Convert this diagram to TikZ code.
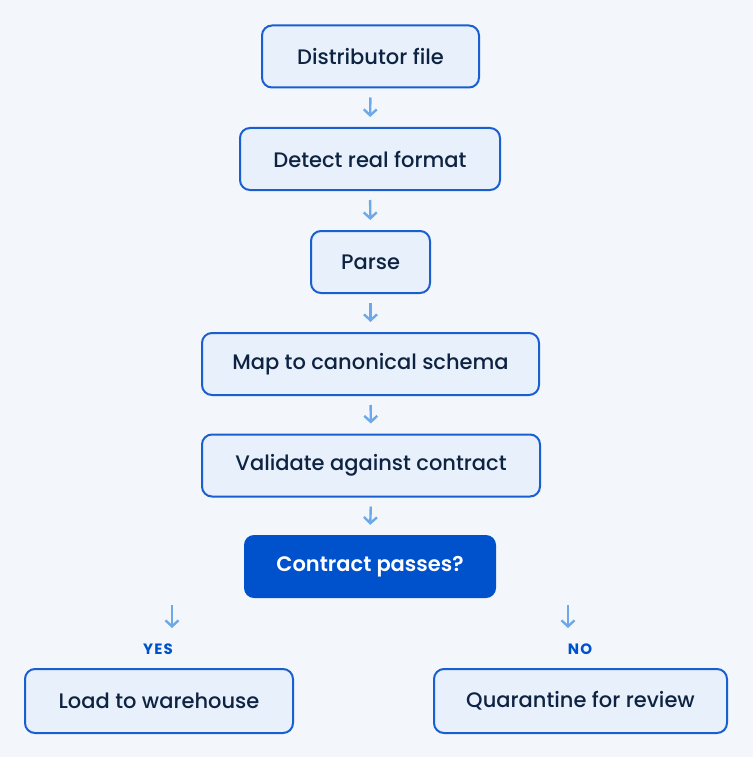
\documentclass[tikz,border=0pt]{standalone}
\usepackage{fontspec}
\setmainfont{Poppins}[UprightFont={Poppins Medium}, BoldFont={Poppins SemiBold}]
\newfontfamily\branchfont{Poppins Bold}[LetterSpace=8]
\usetikzlibrary{arrows.meta}
\definecolor{bg}{HTML}{F3F7FC}
\definecolor{boxfill}{HTML}{E7F0FB}
\definecolor{boxline}{HTML}{1A5FD0}
\definecolor{ink}{HTML}{0E2342}
\definecolor{strong}{HTML}{0052CC}
\definecolor{arrowc}{HTML}{6DA9E8}
\tikzset{
  stepbox/.style={draw=boxline, line width=2pt, fill=boxfill, rounded corners=10pt,
    text=ink, font=\fontsize{21}{25}\selectfont, minimum height=62pt, inner sep=0pt, anchor=center},
  decisionbox/.style={fill=strong, rounded corners=10pt, text=white,
    font=\fontsize{21}{25}\selectfont\bfseries, minimum height=63pt, minimum width=252pt, inner sep=0pt},
  arr/.style={draw=arrowc, line width=2.4pt, -{Straight Barb[length=6pt,width=13pt]}},
  branch/.style={text=strong, font=\branchfont\fontsize{15}{17}\selectfont}
}
\begin{document}
\begin{tikzpicture}[x=1pt,y=-1pt]
\fill[bg] (0,0) rectangle (753,757);
\useasboundingbox (0,0) rectangle (753,757);
\node[stepbox, minimum width=217pt] (n1) at (370.5,56.5) {Distributor file};
\node[stepbox, minimum width=260pt] (n2) at (370,159) {Detect real format};
\node[stepbox, minimum width=119pt] (n3) at (370.5,262) {Parse};
\node[stepbox, minimum width=337pt] (n4) at (370.5,364) {Map to canonical schema};
\node[stepbox, minimum width=338pt] (n5) at (371,465.5) {Validate against contract};
\node[decisionbox] (n6) at (370,566.5) {Contract passes?};
\node[stepbox, minimum width=268pt, minimum height=64pt] (n7) at (159,701) {Load to warehouse};
\node[stepbox, minimum width=293pt, minimum height=64pt] (n8) at (580.5,701) {Quarantine for review};
\draw[arr, shorten <=9pt, shorten >=10pt] (n1.south) -- (n2.north);
\draw[arr, shorten <=9pt, shorten >=10pt] (n2.south) -- (n3.north);
\draw[arr, shorten <=9pt, shorten >=10pt] (n3.south) -- (n4.north);
\draw[arr, shorten <=9pt, shorten >=10pt] (n4.south) -- (n5.north);
\draw[arr, shorten <=9pt, shorten >=10pt] (n5.south) -- (n6.north);
\coordinate (ya) at (172,605);
\coordinate (yb) at (172,628);
\coordinate (na) at (568,605);
\coordinate (nb) at (568,628);
\draw[arr] (ya) -- (yb);
\draw[arr] (na) -- (nb);
\node[branch] (yes) at (158,649) {YES};
\node[branch] (no) at (580,649) {NO};
\end{tikzpicture}
\end{document}
